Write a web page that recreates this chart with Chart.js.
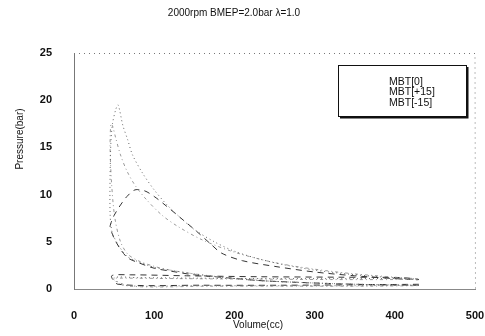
<!DOCTYPE html>
<html>
<head>
<meta charset="utf-8">
<script src="https://cdn.jsdelivr.net/npm/chart.js@4"></script>
<style>
  body { margin: 0; background: #fff; }
  #wrap { width: 485px; height: 336px; }
</style>
</head>
<body>
<div id="wrap"><canvas id="pvCanvas" width="485" height="336"></canvas></div>
<script>
// p-V loops (volume cc / pressure bar)
const volMBT0 = [430, 380, 330, 280, 230, 190, 150, 120, 100, 80, 67, 58, 51, 47, 45, 45, 46, 48, 52, 55, 61, 67, 73, 86, 100, 115, 132, 150, 175, 200, 230, 260, 300, 340, 380, 420, 430,
  420, 350, 250, 150, 80, 50, 60, 150, 250, 350, 430];
const presMBT0 = [0.4, 0.45, 0.55, 0.7, 0.9, 1.2, 1.6, 2.0, 2.3, 2.9, 3.4, 4.3, 5.3, 6.2, 8, 12, 15.5, 17.5, 19, 19.5, 17.3, 15.8, 14.2, 12.2, 10.5, 9.0, 7.6, 6.3, 5.0, 4.0, 3.2, 2.6, 2.0, 1.6, 1.3, 1.05, 0.95,
  1.1, 1.1, 1.1, 1.15, 1.2, 1.2, 0.4, 0.35, 0.35, 0.35, 0.4];

const volMBTp15 = [430, 380, 330, 280, 230, 190, 150, 120, 100, 80, 67, 58, 51, 47, 45, 46, 48, 52, 58, 66, 76, 90, 110, 130, 160, 200, 250, 300, 350, 400, 430,
  400, 320, 220, 130, 60, 48, 70, 170, 270, 370, 430];
const presMBTp15 = [0.4, 0.45, 0.55, 0.7, 0.9, 1.2, 1.6, 2.0, 2.4, 3.0, 3.7, 5.0, 7.5, 11, 15, 17.5, 17.3, 16, 14.2, 12.5, 11, 9.5, 7.8, 6.6, 5.2, 3.9, 2.8, 2.1, 1.6, 1.25, 1.05,
  1.0, 1.0, 1.05, 1.1, 1.15, 1.1, 0.3, 0.3, 0.3, 0.3, 0.35];

const volMBTm15 = [430, 380, 330, 280, 230, 190, 150, 120, 100, 80, 67, 58, 51, 47, 45, 47, 50, 58, 66, 76, 88, 100, 115, 132, 153, 170, 184, 210, 250, 300, 350, 400, 430,
  410, 330, 230, 140, 70, 47, 55, 160, 260, 360, 430];
const presMBTm15 = [0.4, 0.45, 0.55, 0.7, 0.9, 1.2, 1.5, 1.9, 2.2, 2.8, 3.3, 4.2, 5.2, 6.0, 6.6, 7.2, 7.8, 8.9, 9.8, 10.5, 10.4, 9.8, 8.8, 7.6, 6.1, 4.8, 3.8, 3.0, 2.4, 1.8, 1.4, 1.1, 1.0,
  1.2, 1.25, 1.3, 1.4, 1.5, 1.4, 0.5, 0.4, 0.4, 0.45, 0.5];

const seriesNames = ["MBT[0]", "MBT[+15]", "MBT[-15]"];
const xTicks = [0, 100, 200, 300, 400, 500];
const yTicks = [0, 5, 10, 15, 20, 25];

function pts(v, p) { return v.map((x, i) => ({ x: x, y: p[i] })); }

const FONT = "'Liberation Sans', Arial, sans-serif";

// title, axis titles, legend box and dotted frame
const decor = {
  id: "decor",
  afterDraw(chart) {
    const ctx = chart.ctx;
    const a = chart.chartArea;
    ctx.save();
    // dotted frame
    ctx.strokeStyle = "#777";
    ctx.lineWidth = 1;
    ctx.setLineDash([1, 4]);
    ctx.beginPath();
    ctx.moveTo(a.left, a.top + 0.5);
    ctx.lineTo(a.right, a.top + 0.5);
    ctx.lineTo(a.right + 0.5, a.bottom);
    ctx.stroke();
    ctx.setLineDash([]);

    ctx.fillStyle = "#111";
    ctx.font = "10px " + FONT;
    ctx.textAlign = "center";
    ctx.textBaseline = "middle";
    ctx.fillText("2000rpm BMEP=2.0bar \u03bb=1.0", 234, 13);
    ctx.fillText("Volume(cc)", 258, 325);
    ctx.save();
    ctx.translate(20, 139);
    ctx.rotate(-Math.PI / 2);
    ctx.fillText("Pressure(bar)", 0, 0);
    ctx.restore();

    // legend
    const bx = 338, by = 65, bw = 128, bh = 51;
    ctx.fillStyle = "#fff";
    ctx.fillRect(bx, by, bw, bh);
    ctx.strokeStyle = "#111";
    ctx.lineWidth = 1;
    ctx.strokeRect(bx + 0.5, by + 0.5, bw, bh);
    ctx.lineWidth = 2;
    ctx.beginPath();
    ctx.moveTo(bx + 2, by + bh + 1.5);
    ctx.lineTo(bx + bw + 1.5, by + bh + 1.5);
    ctx.lineTo(bx + bw + 1.5, by + 2);
    ctx.stroke();
    ctx.fillStyle = "#111";
    ctx.textAlign = "left";
    ctx.font = "10.5px " + FONT;
    seriesNames.forEach((n, i) => ctx.fillText(n, 389, 82 + i * 10.5));
    ctx.restore();
  }
};

new Chart(document.getElementById("pvCanvas"), {
  type: "scatter",
  data: {
    datasets: [{
      label: seriesNames[0],
      data: pts(volMBT0, presMBT0),
      showLine: true,
      borderColor: "#666",
      borderWidth: 1,
      borderDash: [1, 3],
      pointRadius: 0,
      tension: 0.3
    }, {
      label: seriesNames[1],
      data: pts(volMBTp15, presMBTp15),
      showLine: true,
      borderColor: "#999",
      borderWidth: 1,
      borderDash: [3, 3, 1, 3],
      pointRadius: 0,
      tension: 0.3
    }, {
      label: seriesNames[2],
      data: pts(volMBTm15, presMBTm15),
      showLine: true,
      borderColor: "#333",
      borderWidth: 1,
      borderDash: [6, 5],
      pointRadius: 0,
      tension: 0.3
    }]
  },
  options: {
    responsive: false,
    animation: false,
    layout: { padding: { top: 53, right: 10, left: 0, bottom: 0 } },
    plugins: { legend: { display: false }, title: { display: false }, tooltip: { enabled: false } },
    scales: {
      x: {
        type: "linear",
        min: 0, max: 500,
        afterBuildTicks: s => { s.ticks = xTicks.map(v => ({ value: v })); },
        afterFit: s => { s.height = 47; s.paddingLeft = 0; s.paddingRight = 0; },
        grid: { display: false },
        border: { display: true, color: "#888", dash: [2, 3] },
        ticks: { padding: 12, color: "#111", font: { family: FONT, size: 11, weight: "bold" } }
      },
      y: {
        type: "linear",
        min: 0, max: 25,
        afterBuildTicks: s => { s.ticks = yTicks.map(v => ({ value: v })); },
        afterFit: s => { s.width = 74; s.paddingTop = 0; s.paddingBottom = 0; },
        grid: { display: false },
        border: { display: true, color: "#777", dash: [3, 2] },
        ticks: { padding: 14, color: "#111", font: { family: FONT, size: 11, weight: "bold" } }
      }
    }
  },
  plugins: [decor]
});
</script>
</body>
</html>
